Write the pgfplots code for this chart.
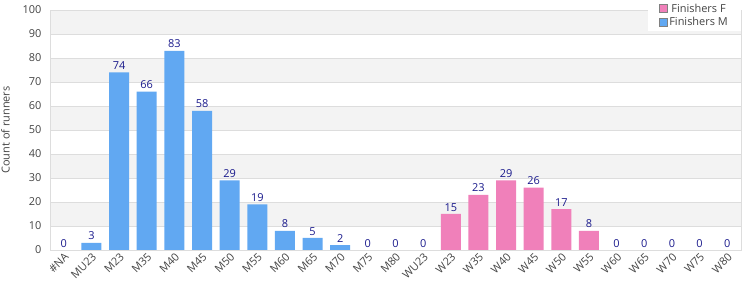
\documentclass[border=0pt]{standalone}
\usepackage{fontspec}
\setmainfont{Open Sans}
\usepackage{pgfplots}
\pgfplotsset{compat=1.18}
\definecolor{barM}{RGB}{97,168,242}
\definecolor{barF}{RGB}{240,128,186}
\definecolor{lbl}{RGB}{26,26,140}
\definecolor{band}{RGB}{243,243,243}
\definecolor{gridc}{RGB}{221,221,221}
\definecolor{tickc}{RGB}{68,68,68}
\begin{document}
\begin{tikzpicture}
\begin{axis}[
  at={(0,0)}, anchor=south west,
  scale only axis, width=691bp, height=240bp,
  set layers=standard,
  xmin=-0.5, xmax=24.5, ymin=0, ymax=100,
  xtick={0,...,24},
  xticklabels={\#NA,MU23,M23,M35,M40,M45,M50,M55,M60,M65,M70,M75,M80,WU23,W23,W35,W40,W45,W50,W55,W60,W65,W70,W75,W80},
  ytick={0,10,...,100},
  ymajorgrids, grid style={gridc, line width=0.8bp},
  axis line style={gridc, line width=0.8bp},
  major tick length=0pt,
  /pgf/number format/assume math mode=true,
  tick label style={font=\fontsize{11}{13}\selectfont, text=tickc},
  yticklabel style={xshift=-5bp},
  x tick label style={rotate=45, anchor=north east, inner sep=1.5bp},
  ylabel={Count of runners},
  ylabel style={at={(axis description cs:-0.058,0.5)}, anchor=south, inner sep=0pt, font=\fontsize{11}{13}\selectfont, text=tickc},
  ybar, bar width=20bp, bar shift=0pt,
  nodes near coords,
  nodes near coords style={font=\fontsize{11}{13}\selectfont, text=lbl, inner sep=2.5bp},
  legend style={at={(axis description cs:1,1.0417)}, anchor=north east, draw=none, fill=white,
    font=\fontsize{11}{13}\selectfont, text=tickc, row sep=0bp, inner xsep=11bp, inner ysep=1.5bp},
  legend image code/.code={\draw[#1, draw=gray, line width=0.8bp] (0bp,-4bp) rectangle (8bp,4bp);},
]
\begin{pgfonlayer}{axis background}
\fill[band] (axis cs:-0.5,90) rectangle (axis cs:24.5,100);
\fill[band] (axis cs:-0.5,70) rectangle (axis cs:24.5,80);
\fill[band] (axis cs:-0.5,50) rectangle (axis cs:24.5,60);
\fill[band] (axis cs:-0.5,30) rectangle (axis cs:24.5,40);
\fill[band] (axis cs:-0.5,10) rectangle (axis cs:24.5,20);
\end{pgfonlayer}
\addplot[fill=barF, draw=none] coordinates {(13,0) (14,15) (15,23) (16,29) (17,26) (18,17) (19,8) (20,0) (21,0) (22,0) (23,0) (24,0)};
\addlegendentry{Finishers F}
\addplot[fill=barM, draw=none] coordinates {(0,0) (1,3) (2,74) (3,66) (4,83) (5,58) (6,29) (7,19) (8,8) (9,5) (10,2) (11,0) (12,0)};
\addlegendentry{Finishers M}
\end{axis}
\pgfresetboundingbox
\path[use as bounding box] (-50bp,-50bp) rectangle (700bp,250bp);
\end{tikzpicture}
\end{document}
